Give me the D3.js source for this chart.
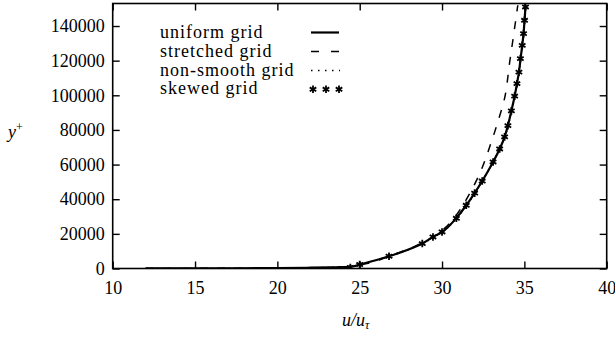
<!DOCTYPE html>
<html>
<head>
<meta charset="utf-8">
<script src="https://cdn.jsdelivr.net/npm/d3@7"></script>
<style>
  html, body { margin: 0; padding: 0; background: #fff; }
  svg { display: block; }
  text { font-family: "Liberation Serif", "Times New Roman", serif; fill: #000; }
</style>
</head>
<body>
<svg id="chart" width="615" height="338"></svg>
<script>
// Velocity profiles u/u_tau against y+ for four grid types.
const xTicks = [10, 15, 20, 25, 30, 35, 40];
const yTicks = [0, 20000, 40000, 60000, 80000, 100000, 120000, 140000];
const xDomain = [10, 40];
const yDomain = [0, 153000];

const legendLabels = ["uniform grid", "stretched grid", "non-smooth grid", "skewed grid"];

// uniform grid (solid)
const uniformU = [12, 14, 16, 18, 20, 22, 23.5, 24.4, 25.0, 26.8, 28.8, 29.45, 30.0, 30.85, 31.47, 31.98, 32.44, 33.1, 33.5, 33.8, 34.0, 34.21, 34.41, 34.55, 34.67, 34.77, 34.87, 34.95, 35.01, 35.07];
const uniformY = [20, 40, 80, 150, 260, 450, 700, 900, 2300, 7100, 14400, 18200, 21100, 29000, 36500, 43500, 50500, 61500, 69000, 76000, 82500, 91000, 99500, 106700, 113400, 121200, 128800, 135600, 143300, 151000];

// stretched grid (dashed)
const stretchedU = [12, 15, 18, 21, 23, 24, 25, 26.8, 28.8, 30.0, 30.8, 31.3, 31.7, 32.3, 33.0, 33.4, 33.8, 34.1, 34.35, 34.6];
const stretchedY = [20, 60, 150, 300, 500, 900, 2200, 7200, 14800, 22000, 30000, 37000, 43600, 55100, 73200, 85000, 98400, 118600, 135000, 152000];

// non-smooth grid (dotted)
const nonSmoothU = [12, 14, 16, 18, 20, 22, 23.5, 24.4, 25.0, 26.8, 28.8, 30.0, 30.9, 31.5, 32.0, 32.45, 33.1, 33.5, 33.82, 34.02, 34.22, 34.42, 34.56, 34.68, 34.78, 34.88, 34.96, 35.02, 35.08];
const nonSmoothY = [20, 40, 80, 150, 260, 450, 700, 900, 2300, 7100, 14400, 21100, 29000, 36500, 43500, 50500, 61500, 69000, 76000, 82500, 91000, 99500, 106700, 113400, 121200, 128800, 135600, 143300, 151000];

// skewed grid (asterisks)
const skewedU = [24.43, 25.0, 26.78, 28.8, 29.45, 30.0, 30.87, 31.47, 31.98, 32.44, 33.1, 33.5, 33.8, 34.0, 34.21, 34.41, 34.55, 34.67, 34.76, 34.87, 34.95, 35.01, 35.07];
const skewedY = [600, 2300, 7100, 14400, 18200, 21100, 29000, 36500, 43500, 50500, 61500, 69000, 76000, 82500, 91000, 99500, 106700, 113400, 121200, 128800, 135600, 143300, 151000];

const svg = d3.select("#chart");
const plotL = 112.7, plotR = 606.7, plotT = 3.5, plotB = 268.5;

const x = d3.scaleLinear().domain(xDomain).range([plotL, plotR]);
const y = d3.scaleLinear().domain(yDomain).range([plotB, plotT]);

const FS = 18;

// clip for curves
svg.append("defs").append("clipPath").attr("id", "plotClip")
  .append("rect").attr("x", plotL).attr("y", plotT).attr("width", plotR - plotL).attr("height", plotB - plotT);

const zip = (us, ys) => us.map((u, i) => [u, ys[i]]);
const line = d3.line().x(d => x(d[0])).y(d => y(d[1])).curve(d3.curveMonotoneY);

const curves = svg.append("g").attr("clip-path", "url(#plotClip)");

curves.append("path").datum(zip(stretchedU, stretchedY))
  .attr("d", line).attr("fill", "none").attr("stroke", "#000")
  .attr("stroke-width", 1.5).attr("stroke-dasharray", "8,10");

curves.append("path").datum(zip(nonSmoothU, nonSmoothY))
  .attr("d", line).attr("fill", "none").attr("stroke", "#000")
  .attr("stroke-width", 1.4).attr("stroke-dasharray", "1.5,4");

curves.append("path").datum(zip(uniformU, uniformY))
  .attr("d", line).attr("fill", "none").attr("stroke", "#000")
  .attr("stroke-width", 2.2);

const star = d3.symbol().type(d3.symbolAsterisk).size(40);
curves.selectAll("path.star").data(zip(skewedU, skewedY)).join("path")
  .attr("class", "star")
  .attr("d", star)
  .attr("transform", d => `translate(${x(d[0])},${y(d[1])})`)
  .attr("fill", "none").attr("stroke", "#000").attr("stroke-width", 1.8);

// axes with inward ticks
const fmt = d3.format("d");
const gl = svg.append("g").attr("transform", `translate(${plotL},0)`)
  .call(d3.axisLeft(y).tickValues(yTicks).tickFormat(fmt).tickSize(-7).tickPadding(8));
const gb = svg.append("g").attr("transform", `translate(0,${plotB})`)
  .call(d3.axisBottom(x).tickValues(xTicks).tickFormat(fmt).tickSize(-7).tickPadding(13));
const gr = svg.append("g").attr("transform", `translate(${plotR},0)`)
  .call(d3.axisRight(y).tickValues(yTicks).tickFormat("").tickSize(-7));
const gt = svg.append("g").attr("transform", `translate(0,${plotT})`)
  .call(d3.axisTop(x).tickValues(xTicks).tickFormat("").tickSize(-7));

[gl, gb, gr, gt].forEach(g => {
  g.select(".domain").remove();
  g.attr("font-family", null);
  g.selectAll(".tick line").attr("stroke", "#000").attr("stroke-width", 1.4);
  g.selectAll("text").attr("font-size", FS).attr("fill", "#000");
});

// frame
svg.append("rect").attr("x", plotL).attr("y", plotT).attr("width", plotR - plotL).attr("height", plotB - plotT)
  .attr("fill", "none").attr("stroke", "#000").attr("stroke-width", 1.6);

// axis titles
const yt = svg.append("text").attr("x", 8).attr("y", 138).attr("font-size", FS).attr("font-style", "italic");
yt.append("tspan").text("y");
yt.append("tspan").attr("dy", -7).attr("font-size", 12).attr("font-style", "normal").text("+");

const xt = svg.append("text").attr("x", 342).attr("y", 326).attr("font-size", FS).attr("font-style", "italic");
xt.append("tspan").text("u/u");
xt.append("tspan").attr("dy", 3).attr("font-size", 12).text("τ");

// legend
const legY = [32.5, 51.5, 70.5, 89.3];
const lx0 = 311, lx1 = 339;
const leg = svg.append("g");
leg.selectAll("text").data(legendLabels).join("text")
  .attr("x", 160).attr("y", (d, i) => legY[i] + 5)
  .attr("font-size", FS).attr("letter-spacing", 1).text(d => d);

leg.append("line").attr("x1", lx0).attr("x2", lx1).attr("y1", legY[0]).attr("y2", legY[0])
  .attr("stroke", "#000").attr("stroke-width", 2.2);
leg.append("line").attr("x1", lx0).attr("x2", lx1).attr("y1", legY[1]).attr("y2", legY[1])
  .attr("stroke", "#000").attr("stroke-width", 1.5).attr("stroke-dasharray", "8,12");
leg.append("line").attr("x1", lx0).attr("x2", lx1 + 1).attr("y1", legY[2]).attr("y2", legY[2])
  .attr("stroke", "#000").attr("stroke-width", 1.4).attr("stroke-dasharray", "1.5,5.5");
leg.selectAll("path.lstar").data([lx0 + 2, (lx0 + lx1) / 2 + 1, lx1]).join("path")
  .attr("class", "lstar").attr("d", star)
  .attr("transform", d => `translate(${d},${legY[3]})`)
  .attr("fill", "none").attr("stroke", "#000").attr("stroke-width", 1.8);
</script>
</body>
</html>
